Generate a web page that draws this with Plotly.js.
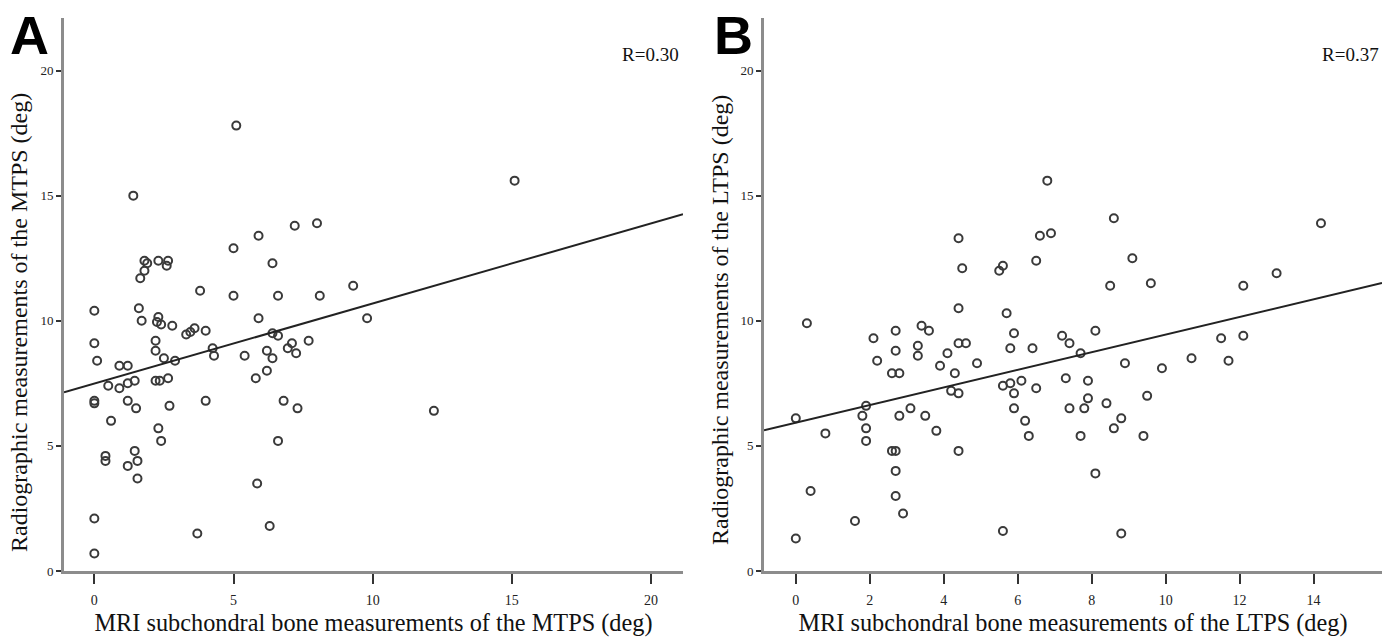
<!DOCTYPE html>
<html>
<head>
<meta charset="utf-8">
<script src="https://cdn.plot.ly/plotly-3.0.1.min.js"></script>
<style>html,body{margin:0;padding:0;background:#fff;}#chart{width:1393px;height:637px;}</style>
</head>
<body>
<div id="chart"></div>
<script>
// Panel A: medial tibial plateau slope (MTPS)
const mtpsMRI = [5.1,1.4,15.1,8.0,7.2,5.9,5.0,6.4,1.8,1.9,2.3,2.65,2.6,1.8,1.65,9.3,3.8,5.0,6.6,8.1,
  0,1.6,1.7,2.3,2.25,2.4,2.8,5.9,9.8,3.3,3.45,3.6,4.0,6.4,6.6,7.1,7.7,0,2.2,2.2,
  2.5,2.9,4.25,4.3,5.4,6.2,6.4,6.95,7.25,0.1,0.9,1.2,0.5,0.9,1.2,1.45,2.2,2.35,2.65,5.8,
  6.2,0,0,1.2,1.5,2.7,4.0,6.8,7.3,0.6,2.3,2.4,6.6,0.4,0.4,1.45,1.55,1.2,1.55,5.85,
  0,3.7,0,12.2,6.3];
const mtpsRadio = [17.8,15.0,15.6,13.9,13.8,13.4,12.9,12.3,12.4,12.3,12.4,12.4,12.2,12.0,11.7,11.4,11.2,11.0,11.0,11.0,
  10.4,10.5,10.0,10.15,9.95,9.85,9.8,10.1,10.1,9.45,9.55,9.7,9.6,9.5,9.4,9.1,9.2,9.1,9.2,8.8,
  8.5,8.4,8.9,8.6,8.6,8.8,8.5,8.9,8.7,8.4,8.2,8.2,7.4,7.3,7.5,7.6,7.6,7.6,7.7,7.7,
  8.0,6.8,6.7,6.8,6.5,6.6,6.8,6.8,6.5,6.0,5.7,5.2,5.2,4.6,4.4,4.8,4.4,4.2,3.7,3.5,
  2.1,1.5,0.7,6.4,1.8];
const fitAIntercept = 7.49;
const fitASlope = 0.32;
const rTextA = "R=0.30";

// Panel B: lateral tibial plateau slope (LTPS)
const ltpsMRI = [4.4,4.5,4.4,0.3,2.1,2.7,3.4,3.6,3.3,4.4,4.6,2.7,3.3,4.1,2.2,3.9,4.9,2.6,2.8,4.3,
  4.2,4.4,0,1.9,1.8,1.9,1.9,0.8,2.8,3.1,3.5,3.8,4.4,2.6,2.7,2.7,2.7,2.9,0.4,1.6,
  0,6.8,8.6,6.6,6.9,6.5,5.5,5.6,9.1,8.5,9.6,5.7,5.9,5.8,6.4,7.2,7.4,8.1,7.7,8.9,
  9.9,5.6,5.8,6.1,5.9,6.5,5.9,6.2,6.3,7.3,7.9,7.9,7.4,7.8,8.4,8.8,8.6,7.7,9.5,9.4,
  8.1,5.6,8.8,14.2,13.0,12.1,12.1,11.5,11.7,10.7];
const ltpsRadio = [13.3,12.1,10.5,9.9,9.3,9.6,9.8,9.6,9.0,9.1,9.1,8.8,8.6,8.7,8.4,8.2,8.3,7.9,7.9,7.9,
  7.2,7.1,6.1,6.6,6.2,5.7,5.2,5.5,6.2,6.5,6.2,5.6,4.8,4.8,4.8,4.0,3.0,2.3,3.2,2.0,
  1.3,15.6,14.1,13.4,13.5,12.4,12.0,12.2,12.5,11.4,11.5,10.3,9.5,8.9,8.9,9.4,9.1,9.6,8.7,8.3,
  8.1,7.4,7.5,7.6,7.1,7.3,6.5,6.0,5.4,7.7,7.6,6.9,6.5,6.5,6.7,6.1,5.7,5.4,7.0,5.4,
  3.9,1.6,1.5,13.9,11.9,11.4,9.4,9.3,8.4,8.5];
const fitBIntercept = 5.93;
const fitBSlope = 0.352;
const rTextB = "R=0.37";

const xTitleA = "MRI subchondral bone measurements of the MTPS (deg)";
const yTitleA = "Radiographic measurements of the MTPS (deg)";
const xTitleB = "MRI subchondral bone measurements of the LTPS (deg)";
const yTitleB = "Radiographic measurements of the LTPS (deg)";
const xTicksA = [0,5,10,15,20];
const xTicksB = [0,2,4,6,8,10,12,14];
const yTicks = [0,5,10,15,20];

const xRangeA = [-1.09, 21.15];
const xRangeB = [-0.86, 15.85];
const yRange = [0, 22.1];

const serif = "Liberation Serif, Times New Roman, serif";
const markerStyle = {symbol:'circle-open', size:8, color:'#3a3a3a', line:{width:2, color:'#3a3a3a'}};

const traces = [
  {x: mtpsMRI, y: mtpsRadio, type:'scatter', mode:'markers', marker: markerStyle, xaxis:'x', yaxis:'y', showlegend:false, cliponaxis:false},
  {x: xRangeA, y: xRangeA.map(v => fitAIntercept + fitASlope*v), type:'scatter', mode:'lines', line:{color:'#222', width:2}, xaxis:'x', yaxis:'y', showlegend:false},
  {x: ltpsMRI, y: ltpsRadio, type:'scatter', mode:'markers', marker: markerStyle, xaxis:'x2', yaxis:'y2', showlegend:false, cliponaxis:false},
  {x: xRangeB, y: xRangeB.map(v => fitBIntercept + fitBSlope*v), type:'scatter', mode:'lines', line:{color:'#222', width:2}, xaxis:'x2', yaxis:'y2', showlegend:false}
];

function xAxis(range, ticks, title, domain, anchor){
  return {range: range, domain: domain, anchor: anchor, tickmode:'array', tickvals: ticks, ticktext: ticks.map(String),
    showgrid:false, zeroline:false, showline:true, linecolor:'#8c8c8c', linewidth:3,
    ticks:'outside', ticklen:10, tickwidth:2, tickcolor:'#333', ticklabelstandoff:4,
    tickfont:{family:serif, size:14, color:'#222'},
    title:{text:title, font:{family:serif, size:24.3, color:'#111'}, standoff:8}, fixedrange:true};
}
function yAxis(ticks, anchor){
  return {range: yRange, domain:[0,1], anchor: anchor, tickmode:'array', tickvals: ticks, ticktext: ticks.map(String),
    showgrid:false, zeroline:false, showline:true, linecolor:'#8c8c8c', linewidth:3,
    ticks:'outside', ticklen:5, tickwidth:2, tickcolor:'#333',
    tickfont:{family:serif, size:13, color:'#222'}, fixedrange:true};
}

const W = 1393, H = 637, ML = 64, MR = 11, MT = 18, MB = 66;
const pw = W - ML - MR, ph = H - MT - MB;
const px = v => (v - ML) / pw;          // pixel x -> paper x
const py = v => (H - MB - v) / ph;      // pixel y -> paper y

const layout = {
  width: W, height: H,
  margin: {l: ML, r: MR, t: MT, b: MB, pad: 0},
  paper_bgcolor:'#fff', plot_bgcolor:'#fff',
  showlegend:false,
  xaxis: xAxis(xRangeA, xTicksA, xTitleA, [0, px(683)], 'y'),
  yaxis: yAxis(yTicks, 'x'),
  xaxis2: xAxis(xRangeB, xTicksB, xTitleB, [px(764), 1], 'y2'),
  yaxis2: yAxis(yTicks, 'x2'),
  annotations: [
    {text:yTitleA, textangle:-90, xref:'paper', yref:'paper', x:px(19), y:py(323), xanchor:'center', yanchor:'middle', showarrow:false, font:{family:serif, size:24, color:'#111'}},
    {text:yTitleB, textangle:-90, xref:'paper', yref:'paper', x:px(720), y:py(320), xanchor:'center', yanchor:'middle', showarrow:false, font:{family:serif, size:24, color:'#111'}},
    {text:'<b>A</b>', xref:'paper', yref:'paper', x:px(29), y:py(35), xanchor:'center', yanchor:'middle', showarrow:false, font:{family:'Liberation Sans, Arial, sans-serif', size:54, color:'#000'}},
    {text:'<b>B</b>', xref:'paper', yref:'paper', x:px(733), y:py(35), xanchor:'center', yanchor:'middle', showarrow:false, font:{family:'Liberation Sans, Arial, sans-serif', size:54, color:'#000'}},
    {text:rTextA, xref:'paper', yref:'paper', x:px(681), y:py(55), xanchor:'right', yanchor:'middle', showarrow:false, font:{family:serif, size:19, color:'#111'}},
    {text:rTextB, xref:'paper', yref:'paper', x:px(1381), y:py(55), xanchor:'right', yanchor:'middle', showarrow:false, font:{family:serif, size:19, color:'#111'}}
  ]
};

Plotly.newPlot('chart', traces, layout, {staticPlot:true, displayModeBar:false});
</script>
</body>
</html>
